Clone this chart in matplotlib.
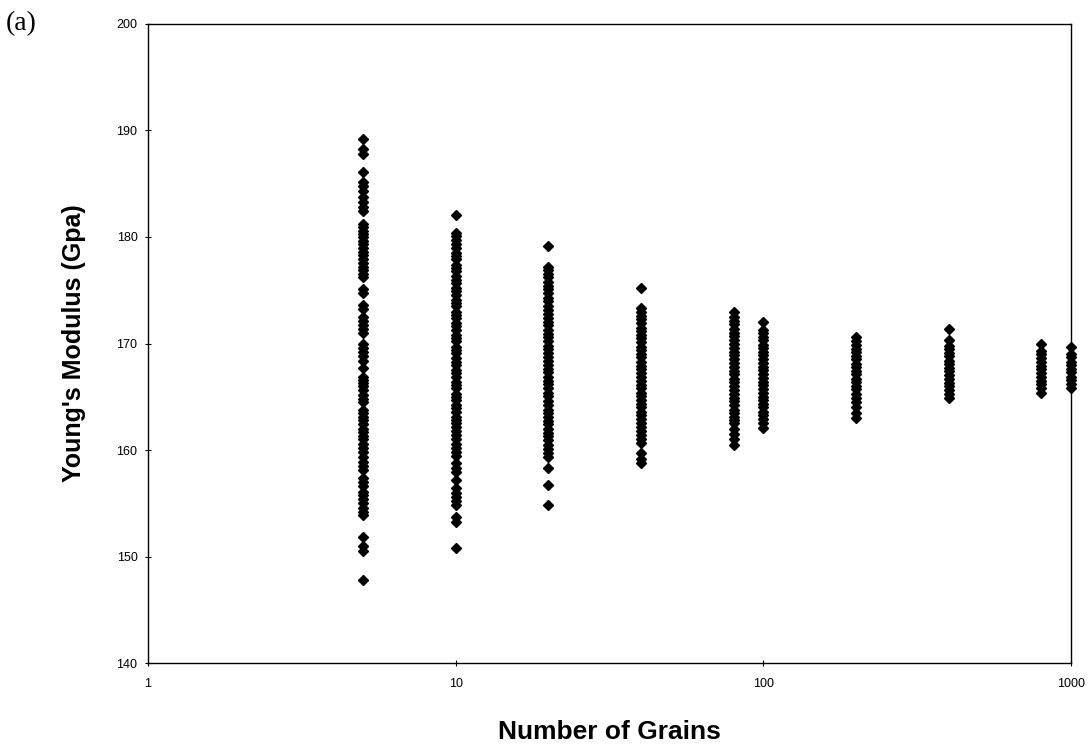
import matplotlib
matplotlib.use("Agg")
import matplotlib.pyplot as plt

# Young's modulus of simulated polycrystals, one column per grain count
grains = [5, 10, 20, 40, 80, 100, 200, 400, 800, 1000]

e_5 = [189.2, 188.3, 187.8, 186.1, 185.2, 184.8, 184.3, 183.8, 183.3, 182.8,
       182.4, 181.2, 180.9, 180.6, 180.3, 180.0, 179.6, 179.3, 179.0, 178.6,
       178.3, 177.9, 177.6, 177.2, 176.9, 176.5, 176.2, 175.1, 174.7, 173.6,
       173.2, 172.5, 172.1, 171.7, 171.4, 171.0, 170.0, 169.6, 169.2, 168.8,
       168.4, 167.7, 166.9, 166.6, 166.3, 166.0, 165.6, 165.2, 164.8, 164.5,
       163.8, 163.5, 163.1, 162.8, 162.4, 162.0, 161.7, 161.3, 161.0, 160.6,
       160.2, 159.8, 159.3, 158.9, 158.5, 158.1, 157.4, 157.0, 156.6, 156.1,
       155.8, 155.4, 155.0, 154.6, 154.2, 153.9, 151.8, 151.0, 150.5, 147.8]

e_10 = [182.1, 180.4, 180.1, 179.7, 179.3, 179.0, 178.5, 178.2, 177.9, 177.4,
        177.1, 176.8, 176.3, 176.0, 175.7, 175.2, 174.9, 174.6, 174.1, 173.8,
        173.5, 173.0, 172.7, 172.4, 171.9, 171.6, 171.3, 170.8, 170.5, 170.2,
        169.7, 169.4, 169.1, 168.6, 168.3, 168.0, 167.5, 167.2, 166.9, 166.4,
        166.1, 165.8, 165.3, 165.0, 164.7, 164.2, 163.9, 163.6, 163.1, 162.8,
        162.5, 162.2, 161.8, 161.4, 161.0, 160.6, 160.2, 159.8, 159.4, 158.8,
        158.3, 157.9, 157.2, 156.4, 156.0, 155.6, 155.2, 154.8, 153.7, 153.2,
        150.8]

e_20 = [179.2, 177.2, 176.9, 176.5, 176.2, 175.8, 175.4, 175.1, 174.7, 174.3,
        174.0, 173.5, 173.1, 172.8, 172.4, 172.0, 171.7, 171.3, 170.9, 170.6,
        170.2, 169.8, 169.5, 169.1, 168.7, 168.4, 168.0, 167.6, 167.3, 166.9,
        166.5, 166.2, 165.8, 165.4, 165.1, 164.6, 164.2, 163.8, 163.5, 163.1,
        162.7, 162.4, 162.0, 161.6, 161.3, 160.9, 160.5, 160.1, 159.7, 159.3,
        158.3, 156.7, 154.8]

e_40 = [175.2, 173.3, 173.0, 172.6, 172.3, 171.9, 171.5, 171.2, 170.8, 170.5,
        170.1, 169.7, 169.4, 169.0, 168.7, 168.3, 167.9, 167.6, 167.2, 166.9,
        166.5, 166.1, 165.8, 165.4, 165.1, 164.7, 164.3, 164.0, 163.6, 163.3,
        162.9, 162.5, 162.2, 161.8, 161.4, 161.0, 160.7, 159.7, 159.2, 158.8]

e_80 = [173.0, 172.5, 172.1, 171.8, 171.4, 171.0, 170.7, 170.3, 170.0, 169.6,
        169.2, 168.9, 168.5, 168.2, 167.8, 167.4, 167.1, 166.7, 166.4, 166.0,
        165.6, 165.3, 164.9, 164.6, 164.2, 163.8, 163.5, 163.1, 162.8, 162.5,
        162.0, 161.5, 161.0, 160.5]

e_100 = [172.0, 171.3, 171.0, 170.6, 170.3, 169.9, 169.6, 169.2, 168.9, 168.5,
         168.2, 167.8, 167.5, 167.1, 166.8, 166.4, 166.1, 165.7, 165.4, 165.0,
         164.7, 164.3, 164.0, 163.6, 163.3, 162.9, 162.5, 162.1]

e_200 = [170.6, 170.2, 169.9, 169.5, 169.2, 168.8, 168.5, 168.1, 167.8, 167.4,
         167.1, 166.7, 166.4, 166.0, 165.7, 165.3, 164.9, 164.5, 164.0, 163.5,
         163.0]

e_400 = [171.4, 170.3, 169.8, 169.5, 169.1, 168.8, 168.4, 168.1, 167.7, 167.4,
         167.0, 166.7, 166.3, 166.0, 165.6, 165.3, 164.9]

e_800 = [170.0, 169.3, 169.0, 168.6, 168.3, 167.9, 167.6, 167.2, 166.9, 166.5,
         166.2, 165.8, 165.4]

e_1000 = [169.7, 169.0, 168.7, 168.3, 168.0, 167.6, 167.3, 166.9, 166.6, 166.2,
          165.8]

columns = [e_5, e_10, e_20, e_40, e_80, e_100, e_200, e_400, e_800, e_1000]

fig = plt.figure(figsize=(10.92, 7.47), dpi=100)
ax = fig.add_axes([0.1355, 0.1124, 0.8453, 0.8555])

for n, vals in zip(grains, columns):
    ax.plot([n] * len(vals), vals, linestyle="none", marker="D",
            markersize=4.8, color="black", clip_on=False, zorder=3)

ax.set_xscale("log")
ax.set_xlim(1, 1000)
ax.set_ylim(140, 200)
ax.set_yticks(range(140, 201, 10))
ax.set_xticks([1, 10, 100, 1000])
ax.set_xticklabels(["1", "10", "100", "1000"])
ax.minorticks_off()

for sp in ax.spines.values():
    sp.set_linewidth(1.0)
    sp.set_color("black")

ax.tick_params(axis="both", direction="inout", length=5, width=0.8,
               labelsize=9, colors="black")
ax.tick_params(axis="x", pad=8)
ax.tick_params(axis="y", pad=5)
for lbl in ax.get_xticklabels() + ax.get_yticklabels():
    lbl.set_family("Liberation Sans")

ax.set_ylabel("Young's Modulus (Gpa)", family="Liberation Sans",
              fontweight="bold", fontsize=18, labelpad=22)
ax.set_xlabel("Number of Grains", family="Liberation Sans",
              fontweight="bold", fontsize=19, labelpad=22)

fig.text(0.005, 0.985, "(a)", family="Liberation Serif", fontsize=20,
         va="top", ha="left")

fig.savefig("out.png", dpi=100)
